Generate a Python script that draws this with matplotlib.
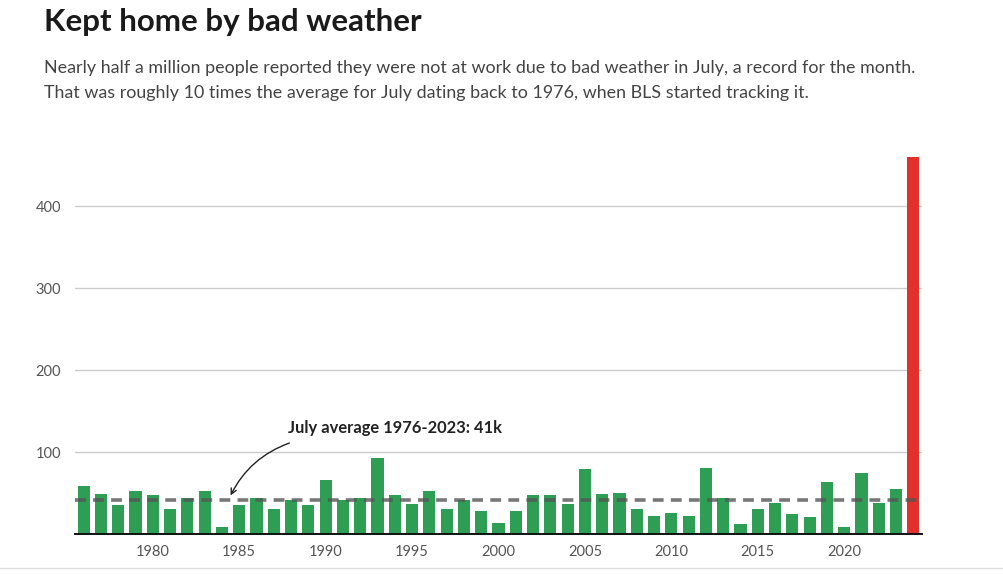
import numpy as np
import matplotlib.pyplot as plt
from matplotlib.lines import Line2D

plt.rcParams['font.family'] = ['Lato', 'DejaVu Sans']

years = list(range(1976, 2025))
# thousands of people not at work due to bad weather, July of each year
values = [59, 49, 35, 53, 48, 30, 44, 53, 8, 35,
          44, 31, 42, 35, 66, 41, 44, 93, 47, 36,
          52, 31, 41, 28, 13, 28, 48, 47, 36, 79,
          49, 50, 31, 22, 26, 22, 80, 44, 12, 31,
          38, 24, 21, 63, 9, 74, 38, 55, 460]
july_avg = 41
yticks = [100, 200, 300, 400]
xticks = [1980, 1985, 1990, 1995, 2000, 2005, 2010, 2015, 2020]

fig = plt.figure(figsize=(10.04, 5.76), dpi=100)
ax = fig.add_axes([75 / 1004, 42 / 576, 847 / 1004, 377 / 576])

colors = ['#2f9e55'] * (len(years) - 1) + ['#e1312a']
ax.bar(years, values, width=0.7, color=colors, zorder=2)

ax.set_xlim(years[0] - 0.5, years[-1] + 0.5)
ax.set_ylim(0, 460)
ax.set_yticks(yticks)
ax.set_xticks(xticks)
ax.tick_params(axis='both', length=0, labelsize=10.5, labelcolor='#555555')
ax.tick_params(axis='x', pad=8)
ax.tick_params(axis='y', pad=10)
ax.grid(axis='y', color='#cccccc', linewidth=1, zorder=0)
for s in ['top', 'right', 'left']:
    ax.spines[s].set_visible(False)
ax.spines['bottom'].set_color('#111111')
ax.spines['bottom'].set_linewidth(1.4)
ax.spines['bottom'].set_zorder(4)

ax.axhline(july_avg, color='#555555', alpha=0.8, linewidth=2.6,
           linestyle=(0, (3, 2)), zorder=3)

ax.text(1987.85, 129, 'July average 1976-2023: 41k', fontsize=11.9,
        fontweight='bold', color='#222222', ha='left', va='center')
ax.annotate('', xy=(1984.5, 47), xytext=(1987.9, 111),
            arrowprops=dict(arrowstyle='->', color='#222222', lw=1,
                            connectionstyle='arc3,rad=0.2',
                            shrinkA=0, shrinkB=0))

fig.text(44 / 1004, 1 - 22 / 576, 'Kept home by bad weather', fontsize=22.5,
         fontweight='bold', color='#1a1a1a', va='center')
fig.text(44 / 1004, 1 - 68 / 576,
         'Nearly half a million people reported they were not at work due to bad weather in July, a record for the month.',
         fontsize=12.9, color='#444444', va='center')
fig.text(44 / 1004, 1 - 93 / 576,
         'That was roughly 10 times the average for July dating back to 1976, when BLS started tracking it.',
         fontsize=12.9, color='#444444', va='center')

fig.add_artist(Line2D([0, 1], [1 - 568 / 576] * 2, color='#dddddd', linewidth=1))

fig.savefig('out.png', dpi=100)
